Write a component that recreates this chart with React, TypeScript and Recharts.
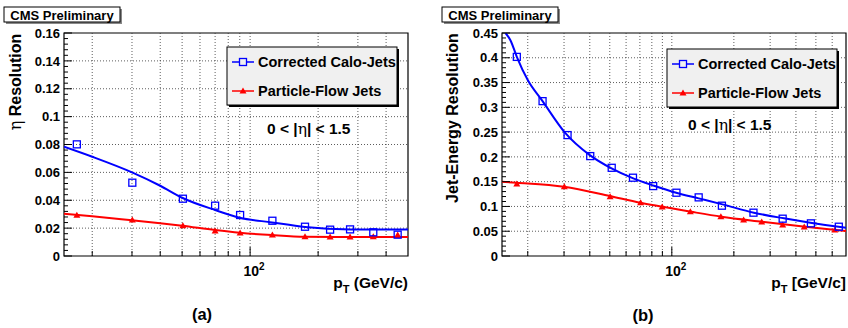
import React from "react";
import {
  ComposedChart,
  Line,
  Scatter,
  XAxis,
  YAxis,
  ReferenceLine,
  ReferenceArea,
} from "recharts";

// ---- panel (a): eta resolution ----
const ptA = [17.1, 30.1, 50.4, 70, 90.3, 125.5, 175, 226, 277, 351, 450];
const caloA = [0.0801, 0.0526, 0.0411, 0.0361, 0.0294, 0.0253, 0.021, 0.0189, 0.0191, 0.017, 0.0153];
const pfA = [0.0292, 0.0258, 0.0217, 0.0179, 0.0165, 0.0151, 0.0139, 0.0136, 0.0136, 0.0139, 0.0151];

const fitPtA = [15, 20, 30, 40, 50, 70, 90, 125, 175, 280, 500];
const fitCaloA = [0.0784, 0.0712, 0.06, 0.0504, 0.0418, 0.033, 0.0275, 0.0241, 0.0208, 0.0191, 0.019];
const fitPfA = [0.0303, 0.0285, 0.0256, 0.0235, 0.0217, 0.0186, 0.0167, 0.015, 0.0138, 0.0136, 0.0136];

// ---- panel (b): jet energy resolution ----
const ptB = [17.7, 23.6, 31.2, 40.2, 51.1, 64.8, 81.2, 105.3, 135, 175, 249, 345, 473, 646];
const caloB = [0.4018, 0.3125, 0.244, 0.2016, 0.178, 0.158, 0.1411, 0.1277, 0.1183, 0.1015, 0.0874, 0.0753, 0.0659, 0.0591];
const ptPfB = [17.7, 30.1, 50.2, 70.6, 89.8, 123, 173, 223, 273, 345, 439, 618];
const pfB = [0.1452, 0.1397, 0.1196, 0.1075, 0.0988, 0.0893, 0.0793, 0.0726, 0.0685, 0.0625, 0.0585, 0.0524];

const fitPtB = [15.6, 16.5, 17.7, 20, 23.6, 30.3, 40, 51, 65, 82, 105, 135, 176, 250, 350, 470, 700];
const fitCaloB = [0.45, 0.435, 0.402, 0.355, 0.3125, 0.249, 0.2036, 0.1768, 0.1566, 0.1418, 0.1277, 0.1163, 0.1042, 0.0874, 0.076, 0.0672, 0.0568];
const fitPtPfB = [15, 17.7, 30, 50, 70, 90, 124, 174, 274, 444, 700];
const fitPfB = [0.1498, 0.1478, 0.1397, 0.121, 0.1075, 0.0994, 0.0893, 0.0793, 0.0692, 0.0591, 0.0505];

// axes
const xGridA = [20, 30, 40, 50, 60, 70, 80, 90, 100, 200, 300, 400];
const xGridB = [20, 30, 40, 50, 60, 70, 80, 90, 100, 200, 300, 400, 500, 600];
const yMajorA = [0, 0.02, 0.04, 0.06, 0.08, 0.1, 0.12, 0.14, 0.16];
const yMajorB = [0, 0.05, 0.1, 0.15, 0.2, 0.25, 0.3, 0.35, 0.4, 0.45];

const BLUE = "#0000ff";
const RED = "#ff0000";
const FONT = "'Liberation Sans', Arial, Helvetica, sans-serif";

const pts = (xs: number[], ys: number[]) => xs.map((x, i) => ({ x, y: ys[i] }));

function withMinor(majors: number[]) {
  const out: number[] = [];
  const step = majors[1] - majors[0];
  majors.forEach((m, i) => {
    out.push(m);
    if (i < majors.length - 1) for (let k = 1; k < 5; k++) out.push(+(m + (step * k) / 5).toFixed(4));
  });
  return out;
}

const OpenSquare = (p: any) => (
  <rect x={p.cx - 3.5} y={p.cy - 3.5} width={7} height={7} fill="none" stroke={BLUE} strokeWidth={1.3} />
);
const Triangle = (p: any) => (
  <polygon points={`${p.cx},${p.cy - 3.5} ${p.cx - 3.5},${p.cy + 2.5} ${p.cx + 3.5},${p.cy + 2.5}`} fill={RED} />
);

function makeYTick(majors: number[]) {
  return (props: any) => {
    const { x, y, payload } = props;
    const v = payload.value;
    const isMajor = majors.some((m) => Math.abs(m - v) < 1e-6);
    return (
      <g>
        <line x1={x} x2={x + (isMajor ? 8 : 4)} y1={y} y2={y} stroke="#000" strokeWidth={1} />
        {isMajor && (
          <text x={x - 4} y={y} dy="0.36em" textAnchor="end" fontFamily={FONT} fontWeight="bold" fontSize={13} fill="#000">
            {String(v)}
          </text>
        )}
      </g>
    );
  };
}

const XTick = (props: any) => {
  const { x, y, payload } = props;
  const major = payload.value === 100;
  return (
    <g>
      <line x1={x} x2={x} y1={y} y2={y - (major ? 9 : 5)} stroke="#000" strokeWidth={1} />
      {major && (
        <text x={x + 4} y={y + 20} textAnchor="middle" fontFamily={FONT} fontWeight="bold" fontSize={14} fill="#000">
          10<tspan dy={-6} fontSize={10}>2</tspan>
        </text>
      )}
    </g>
  );
};

type PanelProps = {
  left: number;
  xDomain: [number, number];
  yMajors: number[];
  xGrid: number[];
  yAxisWidth: number;
  marginRight: number;
  calo: { x: number; y: number }[];
  pf: { x: number; y: number }[];
  fitCalo: { x: number; y: number }[];
  fitPf: { x: number; y: number }[];
};

function Panel(p: PanelProps) {
  const yDomain: [number, number] = [p.yMajors[0], p.yMajors[p.yMajors.length - 1]];
  return (
    <div style={{ position: "absolute", left: p.left, top: 0 }}>
      <ComposedChart width={424} height={328} margin={{ top: 33, right: p.marginRight, bottom: 0, left: 0 }}>
        <XAxis
          dataKey="x"
          type="number"
          scale="log"
          domain={p.xDomain}
          allowDataOverflow
          ticks={p.xGrid}
          interval={0}
          height={72}
          axisLine={false}
          tickLine={false}
          tickSize={0}
          tickMargin={0}
          tick={XTick}
        />
        <YAxis
          dataKey="y"
          type="number"
          domain={yDomain}
          allowDataOverflow
          ticks={withMinor(p.yMajors)}
          interval={0}
          width={p.yAxisWidth}
          axisLine={false}
          tickLine={false}
          tickSize={0}
          tickMargin={0}
          tick={makeYTick(p.yMajors)}
        />
        {p.xGrid.map((v) => (
          <ReferenceLine key={"gx" + v} x={v} stroke="#333" strokeWidth={0.8} strokeDasharray="1 2" />
        ))}
        {p.yMajors.slice(1, -1).map((v) => (
          <ReferenceLine key={"gy" + v} y={v} stroke="#333" strokeWidth={0.8} strokeDasharray="1 2" />
        ))}
        <Line data={p.fitPf} dataKey="y" type="monotone" stroke={RED} strokeWidth={2} dot={false} isAnimationActive={false} />
        <Line data={p.fitCalo} dataKey="y" type="monotone" stroke={BLUE} strokeWidth={2} dot={false} isAnimationActive={false} />
        <Scatter data={p.pf} dataKey="y" shape={Triangle} isAnimationActive={false} />
        <Scatter data={p.calo} dataKey="y" shape={OpenSquare} isAnimationActive={false} />
        <ReferenceArea
          x1={p.xDomain[0]}
          x2={p.xDomain[1]}
          y1={yDomain[0]}
          y2={yDomain[1]}
          fill="none"
          stroke="#000"
          strokeWidth={1.2}
        />
      </ComposedChart>
    </div>
  );
}

function LegendBox({ x, y }: { x: number; y: number }) {
  return (
    <g>
      <rect x={x + 2} y={y + 2} width={170} height={58} fill="#000" />
      <rect x={x} y={y} width={170} height={58} fill="#f0f0f0" stroke="#000" strokeWidth={1} />
      <line x1={x + 5} x2={x + 27} y1={y + 15} y2={y + 15} stroke={BLUE} strokeWidth={1.5} />
      <rect x={x + 12.5} y={y + 11.5} width={7} height={7} fill="#f0f0f0" stroke={BLUE} strokeWidth={1.3} />
      <text x={x + 31} y={y + 15} dy="0.36em" fontFamily={FONT} fontWeight="bold" fontSize={14.5}>
        Corrected Calo-Jets
      </text>
      <line x1={x + 5} x2={x + 27} y1={y + 44} y2={y + 44} stroke={RED} strokeWidth={1.5} />
      <polygon points={`${x + 16},${y + 40.5} ${x + 12.5},${y + 46.5} ${x + 19.5},${y + 46.5}`} fill={RED} />
      <text x={x + 31} y={y + 44} dy="0.36em" fontFamily={FONT} fontWeight="bold" fontSize={14.5}>
        Particle-Flow Jets
      </text>
    </g>
  );
}

function CmsBox({ x }: { x: number }) {
  return (
    <g>
      <rect x={x + 2} y={9} width={116} height={15} fill="#888" />
      <rect x={x} y={7} width={116} height={15} fill="#fff" stroke="#000" strokeWidth={1} />
      <text x={x + 58} y={15} dy="0.36em" textAnchor="middle" fontFamily={FONT} fontWeight="bold" fontSize={13}>
        CMS Preliminary
      </text>
    </g>
  );
}

export default function App() {
  return (
    <div style={{ position: "absolute", left: 0, top: 0, width: 848, height: 328, background: "#fff", overflow: "hidden" }}>
      <Panel
        left={0}
        xDomain={[15, 500]}
        yMajors={yMajorA}
        xGrid={xGridA}
        yAxisWidth={64}
        marginRight={16}
        calo={pts(ptA, caloA)}
        pf={pts(ptA, pfA)}
        fitCalo={pts(fitPtA, fitCaloA)}
        fitPf={pts(fitPtA, fitPfA)}
      />
      <Panel
        left={424}
        xDomain={[15, 700]}
        yMajors={yMajorB}
        xGrid={xGridB}
        yAxisWidth={78}
        marginRight={2}
        calo={pts(ptB, caloB)}
        pf={pts(ptPfB, pfB)}
        fitCalo={pts(fitPtB, fitCaloB)}
        fitPf={pts(fitPtPfB, fitPfB)}
      />
      <svg width={848} height={328} style={{ position: "absolute", left: 0, top: 0, pointerEvents: "none" }}>
        <CmsBox x={4} />
        <CmsBox x={442} />
        <LegendBox x={227} y={47} />
        <LegendBox x={667} y={49} />
        <g fontFamily={FONT} fontWeight="bold" fill="#000">
          <text x={15} y={82} transform="rotate(-90 15 82)" textAnchor="middle" dy="0.36em" fontSize={16}>
            <tspan fontWeight="normal" fontFamily="'DejaVu Serif', serif">η</tspan> Resolution
          </text>
          <text x={452} y={118} transform="rotate(-90 452 118)" textAnchor="middle" dy="0.36em" fontSize={16}>
            Jet-Energy Resolution
          </text>
          <text x={267} y={128} dy="0.36em" fontSize={15.5}>
            0 &lt; |<tspan fontWeight="normal" fontFamily="'DejaVu Serif', serif">η</tspan>| &lt; 1.5
          </text>
          <text x={688} y={124} dy="0.36em" fontSize={15.5}>
            0 &lt; |<tspan fontWeight="normal" fontFamily="'DejaVu Serif', serif">η</tspan>| &lt; 1.5
          </text>
          <text x={408} y={282} dy="0.36em" textAnchor="end" fontSize={15.5}>
            p<tspan dy={5} fontSize={11}>T</tspan>
            <tspan dy={-5}> (GeV/c)</tspan>
          </text>
          <text x={846} y={282} dy="0.36em" textAnchor="end" fontSize={15.5}>
            p<tspan dy={5} fontSize={11}>T</tspan>
            <tspan dy={-5}> [GeV/c]</tspan>
          </text>
          <text x={202} y={314} dy="0.36em" textAnchor="middle" fontSize={16.5}>
            (a)
          </text>
          <text x={643} y={315} dy="0.36em" textAnchor="middle" fontSize={16.5}>
            (b)
          </text>
        </g>
      </svg>
    </div>
  );
}
